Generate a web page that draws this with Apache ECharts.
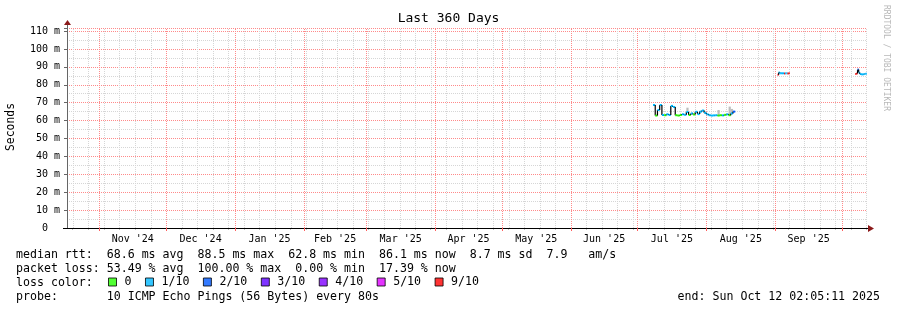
<!DOCTYPE html>
<html><head><meta charset="utf-8">
<script src="https://cdn.jsdelivr.net/npm/echarts@6/dist/echarts.min.js"></script>
<style>html,body{margin:0;padding:0;background:#fff}#c{width:897px;height:310px}</style>
</head><body><div id="c"></div>
<script>
const FONT = '"DejaVu Sans Mono", "Liberation Mono", monospace';

// ---- axis / tick data ----
const axisStart = '2024-10-17 10:00';
const axisEnd = '2025-10-12 06:00';
const monthStarts = ['2024-11-01','2024-12-01','2025-01-01','2025-02-01','2025-03-01','2025-04-01','2025-05-01','2025-06-01','2025-07-01','2025-08-01','2025-09-01','2025-10-01'];
const monthLabelAt = ['2024-11-16','2024-12-16 12:00','2025-01-16 12:00','2025-02-15','2025-03-16 12:00','2025-04-16','2025-05-16 12:00','2025-06-16','2025-07-16 12:00','2025-08-16 12:00','2025-09-16'];
const monthLabels = ["Nov '24","Dec '24","Jan '25","Feb '25","Mar '25","Apr '25","May '25","Jun '25","Jul '25","Aug '25","Sep '25"];
const firstWeek = '2024-10-20';
const yTicks = [0,10,20,30,40,50,60,70,80,90,100,110];

// ---- series data ----
const times = [
 '2025-07-08','2025-07-09','2025-07-10','2025-07-11','2025-07-12','2025-07-13','2025-07-14','2025-07-15',
 '2025-07-16','2025-07-17','2025-07-18','2025-07-19','2025-07-20','2025-07-21','2025-07-22','2025-07-23',
 '2025-07-24','2025-07-25','2025-07-26','2025-07-27','2025-07-28','2025-07-29','2025-07-30','2025-07-31',
 '2025-08-01','2025-08-02','2025-08-03','2025-08-04','2025-08-05','2025-08-06','2025-08-07','2025-08-08',
 '2025-08-09','2025-08-10','2025-08-11','2025-08-12','2025-08-13',
 '2025-09-02 00:00','2025-09-02 12:00','2025-09-03 00:00','2025-09-03 12:00','2025-09-04 00:00','2025-09-04 12:00',
 '2025-09-05 00:00','2025-09-05 12:00','2025-09-06 00:00','2025-09-06 12:00','2025-09-07 00:00',
 '2025-10-07 00:00','2025-10-07 12:00','2025-10-08 00:00','2025-10-08 12:00','2025-10-09 00:00','2025-10-09 12:00',
 '2025-10-10 00:00','2025-10-10 12:00','2025-10-11 00:00','2025-10-11 12:00','2025-10-12 00:00'
];
const medianMs = [
 68.7,62.8,65.9,68.7,63.1,63.0,63.5,63.1,
 68.2,67.6,63.0,62.8,63.1,63.5,63.2,64.8,
 63.1,64.0,63.4,64.9,63.6,65.0,65.6,64.3,
 63.5,63.0,62.8,62.9,63.0,62.8,63.0,62.9,
 63.2,63.5,63.0,64.0,65.0,
 85.6,86.9,86.4,86.4,86.4,86.4,
 86.3,86.4,86.4,86.3,86.4,
 86.0,86.3,88.5,86.8,86.0,85.8,
 85.8,85.9,86.0,86.1,86.1
];
const lossCount = [
 1,0,1,1,1,0,1,1,
 1,1,0,0,0,1,1,1,
 0,1,0,1,1,1,1,1,
 1,1,1,1,1,0,0,1,
 0,1,0,1,2,
 9,1,1,1,1,1,
 9,1,1,9,9,
 9,9,2,1,1,1,
 1,1,1,1,1
];
const smokeTopMs = [
 68.7,62.8,65.9,68.7,63.1,63.0,63.5,63.1,
 68.2,67.6,63.0,62.8,63.1,63.5,63.2,67.2,
 63.1,64.0,63.4,64.9,63.6,65.0,65.6,64.3,
 63.5,63.0,62.8,62.9,63.0,65.9,63.0,62.9,
 63.2,63.5,67.8,66.5,65.0,
 85.6,86.9,86.4,86.4,86.4,86.4,
 86.3,86.4,86.4,86.3,86.4,
 86.0,86.3,88.5,86.8,86.0,85.8,
 85.8,85.9,86.0,86.1,86.1
];
const lossNames = ['0','1/10','2/10','3/10','4/10','5/10','9/10'];
const lossColors = ['#26ff00','#00b8ff','#0059ff','#5e00ff','#7e00ff','#dd00ff','#ff0000'];

const textLines = [
 'median rtt:  68.6 ms avg  88.5 ms max  62.8 ms min  86.1 ms now  8.7 ms sd  7.9   am/s',
 'packet loss: 53.49 % avg  100.00 % max  0.00 % min  17.39 % now',
 'loss color:',
 'probe:       10 ICMP Echo Pings (56 Bytes) every 80s'
];
const endText = 'end: Sun Oct 12 02:05:11 2025';

// ---- helpers ----
const DAY = 86400000;
function ts(s){
  const p = s.split(' ');
  const d = p[0].split('-').map(Number);
  let hh = 0, mm = 0;
  if (p[1]) { const h = p[1].split(':').map(Number); hh = h[0]; mm = h[1]; }
  return Date.UTC(d[0], d[1]-1, d[2], hh, mm);
}
const tMin = ts(axisStart), tMax = ts(axisEnd);
const tms = times.map(ts);
const weeks = [];
for (let w = ts(firstWeek); w < tMax; w += 7*DAY) weeks.push(w);
const labelMap = {};
monthLabelAt.forEach((s,i)=>{ labelMap[ts(s)] = monthLabels[i]; });

function lossColor(n){
  if (n <= 0) return lossColors[0];
  if (n <= 4) return lossColors[n];
  if (n <= 8) return lossColors[5];
  return lossColors[6];
}

const data = tms.map((t,i)=>[t, medianMs[i], lossCount[i], smokeTopMs[i]]);

function segEnd(i){
  if (i+1 < tms.length && tms[i+1]-tms[i] <= 1.5*DAY) return tms[i+1];
  const step = i > 0 ? tms[i]-tms[i-1] : DAY;
  return Math.min(tms[i] + step, tMax);
}

const chart = echarts.init(document.getElementById('c'), null, {renderer:'canvas'});
const RED = '#ff8a8a';
const GRAY = '#d6d6d6';
const ARROW = '#8b1a1a';

const dotted = (color) => ({color: color, type: [1,1], width: 1});

// vertical grid lines positioned through the x-axis scale, snapped to crisp pixels
function gridLineSeries(name, values, color, z){
  return {
    type: 'custom', name: name, xAxisIndex: 1, yAxisIndex: 0, silent: true, clip: true, z: z,
    data: values.map(v => [v]),
    encode: {x: 0},
    renderItem: function(params, api){
      const x = Math.round(api.coord([api.value(0), 0])[0]) + 0.5;
      const top = api.coord([api.value(0), 111.7])[1];
      const bot = api.coord([api.value(0), 0])[1];
      return {type:'line', shape:{x1:x, y1:bot, x2:x, y2:top}, style:{stroke: color, lineWidth: 1, lineDash: [1,1]}};
    }
  };
}

const option = {
  animation: false,
  backgroundColor: '#ffffff',
  textStyle: {fontFamily: FONT},
  title: {
    text: 'Last 360 Days', left: 'center', top: 12, padding: 0,
    textStyle: {fontFamily: FONT, fontSize: 13, fontWeight: 'normal', color: '#000'}
  },
  grid: {left: 67, right: 30, top: 28, bottom: 82, containLabel: false},
  legend: {
    data: lossNames, left: 108, top: 276, padding: 0,
    icon: 'rect', itemWidth: 8, itemHeight: 8, itemGap: 13.5,
    itemStyle: {borderColor: '#000', borderWidth: 1},
    textStyle: {fontFamily: FONT, fontSize: 11.6, color: '#000', padding: [0,0,0,3]},
    selectedMode: false
  },
  xAxis: [
    {
      type: 'value', min: tMin, max: tMax, position: 'bottom', z: 0,
      axisLine: {show: false},
      axisTick: {show: true, customValues: weeks, length: 2, lineStyle: {color: '#c0c0c0'}},
      axisLabel: {show: false},
      splitLine: {show: false}
    },
    {
      type: 'value', min: tMin, max: tMax, position: 'bottom', z: 1,
      axisLine: {show: true, lineStyle: {color: '#000', width: 1}},
      axisTick: {show: true, customValues: monthStarts.map(ts), length: 3, lineStyle: {color: '#ff5f5f'}},
      axisLabel: {
        show: true, customValues: monthLabelAt.map(ts), margin: 6,
        formatter: v => labelMap[v] || '',
        fontFamily: FONT, fontSize: 10, color: '#000'
      },
      splitLine: {show: false}
    }
  ],
  yAxis: {
    type: 'value', min: 0, max: 111.7, interval: 10,
    axisLine: {show: true, lineStyle: {color: '#666', width: 1}},
    axisTick: {show: true, length: 3, lineStyle: {color: '#666'}},
    minorTick: {show: false, splitNumber: 2},
    minorSplitLine: {show: true, lineStyle: dotted(GRAY)},
    splitLine: {show: true, lineStyle: dotted(RED)},
    axisLabel: {
      margin: 7, fontFamily: FONT, fontSize: 10, color: '#000',
      customValues: yTicks,
      formatter: v => v === 0 ? '0  ' : v + ' m'
    }
  },
  series: [
    gridLineSeries('weekGrid', weeks, GRAY, 1),
    gridLineSeries('monthGrid', monthStarts.map(ts), RED, 2),
    {
      type: 'custom', name: 'median', xAxisIndex: 1, yAxisIndex: 0, clip: true,
      data: data, z: 5,
      renderItem: function(params, api){
        const i = params.dataIndex;
        const t = api.value(0), v = api.value(1), loss = api.value(2), hi = api.value(3);
        const p1 = api.coord([t, v]);
        const p2 = api.coord([segEnd(i), v]);
        const children = [];
        if (hi > v) {
          const ph = api.coord([t, hi]);
          children.push({type:'rect', shape:{x:p1[0], y:ph[1], width:p2[0]-p1[0], height:p1[1]-ph[1]}, style:{fill:'#bdbdbd'}});
        }
        if (i > 0 && tms[i]-tms[i-1] <= 1.5*DAY) {
          const pp = api.coord([t, medianMs[i-1]]);
          children.push({type:'line', shape:{x1:p1[0], y1:pp[1], x2:p1[0], y2:p1[1]}, style:{stroke:'#000', lineWidth:1.2}});
        }
        children.push({type:'rect', shape:{x:p1[0], y:p1[1]-1, width:Math.max(p2[0]-p1[0],1), height:2}, style:{fill:lossColor(loss)}});
        return {type:'group', children: children};
      }
    }
  ].concat(lossNames.map((n,i)=>({type:'scatter', name:n, xAxisIndex: 1, data:[], itemStyle:{color:lossColors[i]}}))),
  graphic: [
    {type:'text', z: 100, x: 11, y: 127, rotation: Math.PI/2,
     style:{text:'Seconds', font:'11.4px ' + FONT, fill:'#000', textAlign:'center', textVerticalAlign:'middle'}},
    {type:'text', z: 100, x: 886, y: 5, rotation: -Math.PI/2,
     style:{text:'RRDTOOL / TOBI OETIKER', font:'8px ' + FONT, fill:'#b8b8b8', textAlign:'left', textVerticalAlign:'middle'}},
    {type:'text', z: 100, x: 16, y: 255.3, style:{text:textLines[0], font:'11.6px ' + FONT, fill:'#000', textVerticalAlign:'middle'}},
    {type:'text', z: 100, x: 16, y: 269, style:{text:textLines[1], font:'11.6px ' + FONT, fill:'#000', textVerticalAlign:'middle'}},
    {type:'text', z: 100, x: 16, y: 283, style:{text:textLines[2], font:'11.6px ' + FONT, fill:'#000', textVerticalAlign:'middle'}},
    {type:'text', z: 100, x: 16, y: 297, style:{text:textLines[3], font:'11.6px ' + FONT, fill:'#000', textVerticalAlign:'middle'}},
    {type:'text', z: 100, x: 880, y: 297, style:{text:endText, font:'11.6px ' + FONT, fill:'#000', textAlign:'right', textVerticalAlign:'middle'}},
    {type:'line', z: 100, shape:{x1:67.5, y1:28, x2:67.5, y2:24}, style:{stroke:'#666', lineWidth:1}},
    {type:'polygon', z: 100, shape:{points:[[64,25],[71,25],[67.5,20]]}, style:{fill:ARROW}},
    {type:'line', z: 100, shape:{x1:63, y1:228.5, x2:67, y2:228.5}, style:{stroke:'#000', lineWidth:1}},
    {type:'line', z: 100, shape:{x1:867, y1:228.5, x2:869, y2:228.5}, style:{stroke:'#000', lineWidth:1}},
    {type:'polygon', z: 100, shape:{points:[[868,225],[868,232],[874,228.5]]}, style:{fill:ARROW}}
  ]
};
chart.setOption(option);
</script>
</body></html>
